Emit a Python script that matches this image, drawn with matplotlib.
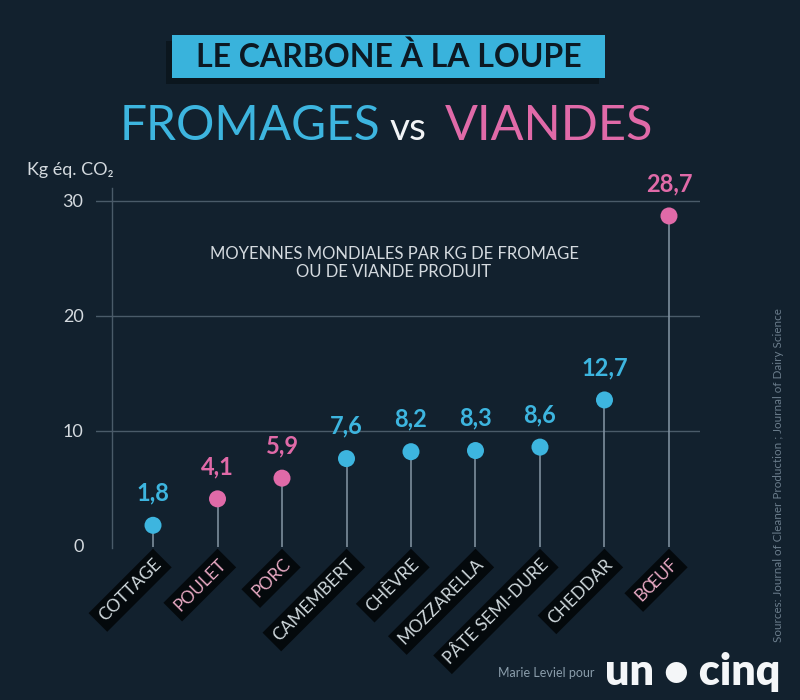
import matplotlib
matplotlib.use("Agg")
import matplotlib.pyplot as plt
from matplotlib.patches import Rectangle

# ---- data ----
categories = ["COTTAGE", "POULET", "PORC", "CAMEMBERT", "CHÈVRE",
              "MOZZARELLA", "PÂTE SEMI-DURE", "CHEDDAR", "BŒUF"]
values = [1.8, 4.1, 5.9, 7.6, 8.2, 8.3, 8.6, 12.7, 28.7]
kinds = ["fromage", "viande", "viande", "fromage", "fromage",
         "fromage", "fromage", "fromage", "viande"]
value_labels = ["1,8", "4,1", "5,9", "7,6", "8,2", "8,3", "8,6", "12,7", "28,7"]
yticks = [0, 10, 20, 30]

# ---- style ----
BG = "#12212e"
BLUE = "#3db5df"
PINK = "#e06aa8"
STEM = "#8597a6"
GRID = "#4a5b69"
TXT = "#d4dadf"
FONT = ["Lato", "DejaVu Sans"]
plt.rcParams["font.family"] = FONT

W, H = 800, 700
fig = plt.figure(figsize=(W / 100, H / 100), dpi=100, facecolor=BG)

def fx(px):
    return px / W

def fy(py):
    return 1 - py / H

# axes placement (pixel based)
ax_l, ax_r, ax_t, ax_b = 96, 700, 160, 557.5
ax = fig.add_axes([fx(ax_l), fy(ax_b), fx(ax_r - ax_l), (ax_b - ax_t) / H])
ax.set_facecolor("none")
ax.set_xlim(-0.884, 8.481)
ax.set_ylim(-1, 33.565)
for s in ax.spines.values():
    s.set_visible(False)
ax.set_xticks([])
ax.set_yticks(yticks)
ax.set_yticklabels([str(v) for v in yticks])
ax.tick_params(axis="y", length=0, pad=9, labelsize=13, labelcolor=TXT)

for v in yticks[1:]:
    ax.axhline(v, color=GRID, lw=1, zorder=1)
ax.plot([-0.636, -0.636], [-0.15, 31.1], color=GRID, lw=1, zorder=1)

xs = list(range(len(categories)))
colors = [BLUE if k == "fromage" else PINK for k in kinds]
ax.vlines(xs, -0.09, values, color=STEM, lw=1.1, zorder=2)
ax.scatter(xs, values, s=150, c=colors, zorder=4, linewidths=0)

for x, v, lab, c in zip(xs, values, value_labels, colors):
    ax.annotate(lab, (x, v), xytext=(0, 15), textcoords="offset points",
                ha="center", va="bottom", color=c, fontsize=17,
                fontweight="bold", zorder=5)

for x, cat, k in zip(xs, categories, kinds):
    lc = "#e8a9c3" if k == "viande" else "#cfd8dc"
    ax.annotate(cat, (x, -0.09), xytext=(0, -9), textcoords="offset pixels",
                ha="right", va="top", rotation=45, rotation_mode="anchor",
                color=lc, fontsize=12.5, zorder=6, annotation_clip=False,
                bbox=dict(boxstyle="square,pad=0.3", fc="#03070a",
                          ec="none", alpha=0.92))

# ---- titles ----
fig.patches.append(Rectangle((fx(166), fy(84)), fx(433), 43 / H,
                             transform=fig.transFigure, fc="#070d12",
                             ec="none", alpha=0.55, zorder=0))
fig.patches.append(Rectangle((fx(172), fy(78)), fx(433), 43 / H,
                             transform=fig.transFigure, fc="#39b3dc",
                             ec="none", zorder=1))
fig.text(fx(388.5), fy(57), "LE CARBONE À LA LOUPE", ha="center", va="center",
         fontsize=23, fontweight="bold", color="#0c1923")

fig.text(fx(120), fy(140), "FROMAGES", ha="left", va="baseline",
         fontsize=34.5, color=BLUE)
fig.text(fx(390), fy(140), "vs", ha="left", va="baseline",
         fontsize=28, color="#f2f4f6")
fig.text(fx(445), fy(140), "VIANDES", ha="left", va="baseline",
         fontsize=35, color=PINK)

fig.text(fx(27), fy(170), "Kg éq. CO₂", ha="left", va="center",
         fontsize=13, color=TXT)

fig.text(fx(394), fy(263), "MOYENNES MONDIALES PAR KG DE FROMAGE\nOU DE VIANDE PRODUIT",
         ha="center", va="center", fontsize=12, color=TXT, linespacing=1.2)

fig.text(fx(778), fy(475), "Sources: Journal of Cleaner Production ; Journal of Dairy Science",
         ha="center", va="center", rotation=90, fontsize=8.4, color="#6a7c8b")

fig.text(fx(595), fy(673), "Marie Leviel pour", ha="right", va="center",
         fontsize=9, color="#8a9dab")
fig.text(fx(605), fy(672), "un • cinq", ha="left", va="center",
         fontsize=31, fontweight="heavy", color="#f4f6f8")

fig.savefig("out.png", dpi=100, facecolor=BG)
